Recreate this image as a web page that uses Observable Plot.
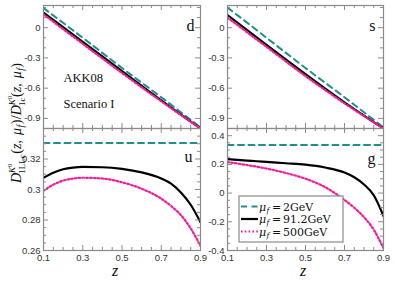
<!DOCTYPE html>
<html>
<head>
<meta charset="utf-8">
<script src="https://cdn.jsdelivr.net/npm/d3@7"></script>
<script src="https://cdn.jsdelivr.net/npm/@observablehq/plot@0.6"></script>
<style>
  html, body { margin: 0; padding: 0; background: white; }
  #wrap { position: relative; width: 395px; height: 286px; overflow: hidden; background: white; }
  #wrap svg { position: absolute; }
</style>
</head>
<body>
<div id="wrap"></div>
<script>
// ---------- data ----------
const seriesValues = ["2GeV", "91.2GeV", "500GeV"];
const panelLabels = ["d", "s", "u", "g"];
const xTickLabels = [0.1, 0.3, 0.5, 0.7, 0.9];

const zLin = [0.1, 0.3, 0.5, 0.7, 0.9];
const d2GeV   = [0.195, -0.10, -0.40, -0.69, -0.99];
const d91GeV  = [0.150, -0.14, -0.43, -0.72, -1.00];
const d500GeV = [0.132, -0.16, -0.45, -0.73, -1.00];

const s2GeV   = [0.200, -0.10, -0.40, -0.69, -0.99];
const s91GeV  = [0.125, -0.17, -0.46, -0.74, -1.00];
const s500GeV = [0.100, -0.19, -0.48, -0.75, -1.00];

const zCurve = [0.1, 0.15, 0.2, 0.25, 0.3, 0.4, 0.5, 0.6, 0.7, 0.75, 0.8, 0.85, 0.9];
const u2GeV   = [0.3305, 0.3305, 0.3305, 0.3305, 0.3305, 0.3305, 0.3305, 0.3305, 0.3305, 0.3305, 0.3305, 0.3305, 0.3305];
const u91GeV  = [0.3077, 0.3110, 0.3133, 0.3144, 0.3148, 0.3146, 0.3135, 0.3112, 0.3072, 0.3038, 0.2980, 0.2900, 0.2785];
const u500GeV = [0.2992, 0.3032, 0.3058, 0.3072, 0.3077, 0.3072, 0.3047, 0.3005, 0.2940, 0.2892, 0.2832, 0.2745, 0.2630];

const g2GeV   = [0.335, 0.335, 0.335, 0.335, 0.335, 0.335, 0.335, 0.335, 0.335, 0.335, 0.335, 0.335, 0.335];
const g91GeV  = [0.236, 0.231, 0.226, 0.222, 0.217, 0.208, 0.198, 0.178, 0.143, 0.110, 0.060, -0.015, -0.160];
const g500GeV = [0.216, 0.206, 0.195, 0.184, 0.171, 0.140, 0.100, 0.042, -0.048, -0.102, -0.168, -0.255, -0.385];

const yTicksTop = [0, -0.3, -0.6, -0.9];
const yTicksU = [0.26, 0.28, 0.3, 0.32];
const yTicksG = [-0.4, -0.2, 0, 0.2, 0.4];

// ---------- styles ----------
const colors = ["#1f8f8c", "#000000", "#f41c98"];
const dashes = ["6,4.5", null, "1.6,2.2"];
const widths = [2, 2.2, 2.2];
const frameColor = "#8a8a8a";

function toRows(z, arrays) {
  const rows = [];
  arrays.forEach((arr, k) => arr.forEach((v, i) => rows.push({z: z[i], v, s: k})));
  return rows;
}

function range(a, b, step) {
  const out = [];
  const n = Math.round((b - a) / step);
  for (let i = 0; i <= n; i++) out.push(+(a + i * step).toFixed(6));
  return out;
}

function panel(o) {
  const fw = o.width - o.ml - o.mr, fh = o.height - o.mt - o.mb;
  const xMinor = range(0.1, 0.9, 0.05).filter(v => !xTickLabels.some(t => Math.abs(t - v) < 1e-9));
  const yMajor = o.yticks;
  const yMinor = range(o.yMinorStart, o.yMinorEnd, o.yMinorStep).filter(v => !yMajor.some(t => Math.abs(t - v) < 1e-9));
  const tk = {stroke: frameColor, strokeWidth: 1};
  const marks = [];
  [0, 1, 2].forEach(k => {
    marks.push(Plot.line(o.rows.filter(r => r.s === k), {
      x: "z", y: "v", stroke: colors[k], strokeWidth: widths[k],
      strokeDasharray: dashes[k], curve: "monotone-x", clip: true
    }));
  });
  marks.push(Plot.tickX(xTickLabels, {x: d => d, insetTop: fh - 5, ...tk}));
  marks.push(Plot.tickX(xMinor, {x: d => d, insetTop: fh - 3, ...tk}));
  marks.push(Plot.tickX(xTickLabels, {x: d => d, insetBottom: fh - 5, ...tk}));
  marks.push(Plot.tickX(xMinor, {x: d => d, insetBottom: fh - 3, ...tk}));
  marks.push(Plot.tickY(yMajor, {y: d => d, insetRight: fw - 5, ...tk}));
  marks.push(Plot.tickY(yMinor, {y: d => d, insetRight: fw - 3, ...tk}));
  marks.push(Plot.tickY(yMajor, {y: d => d, insetLeft: fw - 5, ...tk}));
  marks.push(Plot.tickY(yMinor, {y: d => d, insetLeft: fw - 3, ...tk}));
  marks.push(Plot.frame({stroke: frameColor, strokeWidth: 1.2}));
  marks.push(Plot.axisY({ticks: yMajor, tickSize: 0, tickPadding: 3, tickFormat: d => String(d),
    fontSize: 9.5, fill: "#333", label: null}));
  if (o.xlabels) {
    marks.push(Plot.axisX({ticks: xTickLabels, tickSize: 0, tickPadding: 4, tickFormat: d => String(d),
      fontSize: 9.5, fill: "#333", label: null}));
  } else {
    marks.push(Plot.axisX({ticks: [], label: null}));
  }
  marks.push(Plot.text([o.letter], {text: d => d, frameAnchor: "top-right", dx: o.letterDx, dy: o.letterDy,
    fontSize: 16, fontFamily: "Liberation Serif", fill: "#111", textAnchor: "end"}));
  if (o.extra) marks.push(...o.extra);

  const svg = Plot.plot({
    width: o.width, height: o.height,
    marginLeft: o.ml, marginRight: o.mr, marginTop: o.mt, marginBottom: o.mb,
    x: {domain: [0.1, 0.9]},
    y: {domain: o.ydomain},
    style: {background: "transparent", overflow: "visible", fontFamily: "Liberation Sans"},
    marks
  });
  svg.style.left = o.left + "px";
  svg.style.top = o.top + "px";
  svg.style.maxWidth = "none";
  document.getElementById("wrap").appendChild(svg);
}

const topDomain = [-1.0, 0.22];

panel({left: 0, top: 0, width: 205, height: 131, ml: 43, mr: 5, mt: 5, mb: 3,
  rows: toRows(zLin, [d2GeV, d91GeV, d500GeV]), ydomain: topDomain, yticks: yTicksTop,
  yMinorStart: -1.0, yMinorEnd: 0.2, yMinorStep: 0.1, xlabels: false, letter: panelLabels[0],
  letterDx: -6, letterDy: 14,
  extra: [
    Plot.text(["AKK08"], {text: d => d, frameAnchor: "top-left", dx: 20, dy: 68, textAnchor: "start",
      fontSize: 12.5, fontFamily: "Liberation Serif", fill: "#111"}),
    Plot.text(["Scenario I"], {text: d => d, frameAnchor: "top-left", dx: 20, dy: 94, textAnchor: "start",
      fontSize: 12.5, fontFamily: "Liberation Serif", fill: "#111"})
  ]});

panel({left: 200, top: 0, width: 195, height: 131, ml: 27, mr: 12, mt: 5, mb: 3,
  rows: toRows(zLin, [s2GeV, s91GeV, s500GeV]), ydomain: topDomain, yticks: yTicksTop,
  yMinorStart: -1.0, yMinorEnd: 0.2, yMinorStep: 0.1, xlabels: false, letter: panelLabels[1],
  letterDx: -8, letterDy: 14});

panel({left: 0, top: 123, width: 205, height: 163, ml: 43, mr: 5, mt: 5, mb: 36,
  rows: toRows(zCurve, [u2GeV, u91GeV, u500GeV]), ydomain: [0.26, 0.34], yticks: yTicksU,
  yMinorStart: 0.26, yMinorEnd: 0.34, yMinorStep: 0.005, xlabels: true, letter: panelLabels[2],
  letterDx: -8, letterDy: 22});

panel({left: 200, top: 123, width: 195, height: 163, ml: 27, mr: 12, mt: 5, mb: 36,
  rows: toRows(zCurve, [g2GeV, g91GeV, g500GeV]), ydomain: [-0.4, 0.45], yticks: yTicksG,
  yMinorStart: -0.4, yMinorEnd: 0.45, yMinorStep: 0.05, xlabels: true, letter: panelLabels[3],
  letterDx: -8, letterDy: 24});

// ---------- overlay: axis titles and legend ----------
const ov = d3.select("#wrap").append("svg")
  .attr("width", 395).attr("height", 286)
  .style("left", "0px").style("top", "0px")
  .attr("font-family", "Liberation Serif");

[[115, 276], [303, 276]].forEach(([x, y]) => {
  ov.append("text").attr("x", x).attr("y", y).attr("text-anchor", "middle")
    .attr("font-size", 16).attr("font-style", "italic").attr("fill", "#111").text("z");
});

function part(sel, txt, opts = {}) {
  const t = sel.append("tspan").text(txt);
  if (opts.italic) t.attr("font-style", "italic");
  if (opts.size) t.attr("font-size", opts.size);
  if (opts.dy != null) t.attr("dy", opts.dy);
  if (opts.dx != null) t.attr("dx", opts.dx);
  return t;
}

// y title (rotated)
const yt = ov.append("text")
  .attr("transform", "translate(21,123) rotate(-90)")
  .attr("text-anchor", "middle").attr("font-size", 14).attr("fill", "#111");
function dPart(sub) {
  part(yt, "D", {italic: true});
  part(yt, "K", {italic: true, size: 9, dy: -6});
  part(yt, "0", {size: 6.5, dy: -3});
  part(yt, sub, {size: 9, dy: 13, dx: -10});
  part(yt, "(", {dy: -4, dx: 0.5});
  part(yt, "z", {italic: true});
  part(yt, ", ", {});
  part(yt, "μ", {italic: true, dx: 1.5});
  part(yt, "f", {italic: true, size: 9.5, dy: 3, dx: 0.5});
  part(yt, ")", {dy: -3, dx: 0.5});
}
dPart("1LLc");
part(yt, "/", {dx: 0.5});
dPart("1c");

// legend (separate text pieces so they do not overlap)
const lg = ov.append("g").attr("transform", "translate(239,196)")
  .attr("font-family", "DejaVu Serif");
lg.append("rect").attr("width", 104).attr("height", 46).attr("fill", "white")
  .attr("stroke", frameColor).attr("stroke-width", 1.2);
seriesValues.forEach((val, k) => {
  const y = 10.5 + k * 12.5;
  lg.append("line").attr("x1", 2).attr("x2", 19).attr("y1", y).attr("y2", y)
    .attr("stroke", colors[k]).attr("stroke-width", widths[k])
    .attr("stroke-dasharray", dashes[k]);
  lg.append("text").attr("x", 20).attr("y", y + 4).attr("font-size", 11)
    .attr("font-style", "italic").attr("fill", "#111").text("μ");
  lg.append("text").attr("x", 27.5).attr("y", y + 6).attr("font-size", 7.5)
    .attr("font-style", "italic").attr("fill", "#111").text("f");
  lg.append("text").attr("x", 33).attr("y", y + 4).attr("font-size", 11)
    .attr("fill", "#111").text("=");
  lg.append("text").attr("x", 44).attr("y", y + 4).attr("font-size", 11)
    .attr("fill", "#111").text(val);
});
</script>
</body>
</html>
